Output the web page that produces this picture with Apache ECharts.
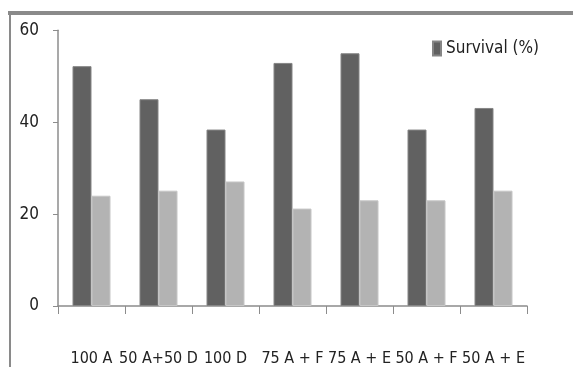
<!DOCTYPE html>
<html>
<head>
<meta charset="utf-8">
<script src="https://cdn.jsdelivr.net/npm/echarts@6/dist/echarts.min.js"></script>
<style>
  html, body { margin: 0; padding: 0; background: #fff; }
  #chart { width: 573px; height: 367px; }
</style>
</head>
<body>
<div id="chart"></div>
<script>
// Treatments on the x axis
const categories = ['100 A', '50 A+50 D', '100 D', '75 A + F', '75 A + E', '50 A + F', '50 A + E'];
// Survival (%) per treatment (dark bars)
const survival = [52.2, 45, 38.4, 52.9, 55, 38.4, 43.1];
// Second measured series (light bars)
const second = [24, 25.1, 27.1, 21.2, 23, 23, 25.1];
// Value axis ticks
const yTicks = [0, 20, 40, 60];

// narrow lettering: the weight slot also carries a font-stretch keyword
const FAMILY = '"DejaVu Sans", sans-serif';
const NARROW = 'normal condensed';

const chart = echarts.init(document.getElementById('chart'), null, { renderer: 'canvas' });

chart.setOption({
  animation: false,
  backgroundColor: '#ffffff',
  grid: { left: 58, right: 46, top: 30.3, bottom: 60.3, containLabel: false },
  legend: {
    data: ['Survival (%)'],
    left: 432,
    top: 40,
    padding: 0,
    itemWidth: 8,
    itemHeight: 14,
    itemGap: 4,
    icon: 'rect',
    textStyle: { fontFamily: FAMILY, fontWeight: NARROW, fontSize: 17, color: '#222' }
  },
  xAxis: {
    type: 'category',
    data: categories,
    boundaryGap: true,
    axisLine: { lineStyle: { color: '#8c8c8c', width: 1.5 } },
    axisTick: { show: true, length: 8, lineStyle: { color: '#8c8c8c' } },
    axisLabel: {
      margin: 45,
      interval: 0,
      fontFamily: FAMILY,
      fontWeight: NARROW,
      fontSize: 16,
      color: '#222'
    }
  },
  yAxis: {
    type: 'value',
    min: yTicks[0],
    max: yTicks[yTicks.length - 1],
    interval: yTicks[1] - yTicks[0],
    splitLine: { show: false },
    axisLine: { show: true, lineStyle: { color: '#8c8c8c', width: 1.5 } },
    axisTick: { show: true, length: 5, lineStyle: { color: '#8c8c8c' } },
    axisLabel: {
      margin: 19,
      fontFamily: FAMILY,
      fontWeight: NARROW,
      fontSize: 17,
      color: '#222'
    }
  },
  series: [
    {
      name: 'Survival (%)',
      type: 'bar',
      data: survival,
      barWidth: 19,
      barGap: '0%',
      itemStyle: { color: '#616161', borderColor: '#858585', borderWidth: 1 }
    },
    {
      name: 'Series 2',
      type: 'bar',
      data: second,
      barWidth: 19,
      barGap: '0%',
      itemStyle: { color: '#b3b3b3', borderColor: '#c6c6c6', borderWidth: 1 }
    }
  ],
  graphic: [
    // outer frame: top edge and left edge
    { type: 'line', shape: { x1: 8, y1: 13, x2: 573, y2: 13 }, style: { stroke: '#8a8a8a', lineWidth: 4 } },
    { type: 'line', shape: { x1: 10, y1: 11, x2: 10, y2: 367 }, style: { stroke: '#8a8a8a', lineWidth: 2 } }
  ]
});
</script>
</body>
</html>
